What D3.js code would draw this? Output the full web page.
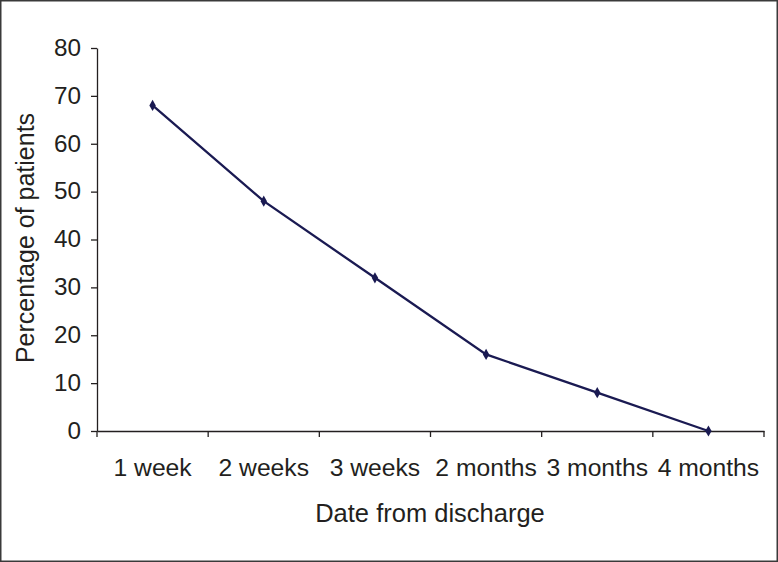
<!DOCTYPE html>
<html><head><meta charset="utf-8">
<script src="https://cdn.jsdelivr.net/npm/d3@7"></script>
<style>html,body{margin:0;padding:0;background:#fff;}svg{display:block;}</style>
</head><body>
<script>
const categories = ["1 week","2 weeks","3 weeks","2 months","3 months","4 months"];
const values = [68,48,32,16,8,0];
const yTicks = [0,10,20,30,40,50,60,70,80];

(function(){
const W=778,H=562;
const svg=d3.select("body").append("svg").attr("width",W).attr("height",H);
svg.append("rect").attr("x",0.75).attr("y",0.75).attr("width",W-1.5).attr("height",H-1.5)
  .attr("fill","#fff").attr("stroke","#3a3a3a").attr("stroke-width",1.5);

const mL=97,mR=764,mT=48,mB=431;
const x=d3.scaleBand().domain(categories).range([mL,mR]);
const y=d3.scaleLinear().domain([0,80]).range([mB,mT]);
const font="Liberation Sans, Arial, sans-serif";
const tc="#231f20";

const ya=svg.append("g").attr("transform",`translate(${mL},0)`)
  .call(d3.axisLeft(y).tickValues(yTicks).tickSize(6).tickPadding(10).tickSizeOuter(0));
ya.select(".domain").attr("stroke","#231f20").attr("stroke-width",1.3);
ya.selectAll(".tick line").attr("stroke","#231f20").attr("stroke-width",1.3);
ya.selectAll("text").attr("font-family",font).attr("font-size",24.3).attr("fill",tc).attr("dy","0.3em");

const xa=svg.append("g").attr("transform",`translate(0,${mB})`)
  .call(d3.axisBottom(x).tickSize(0).tickPadding(30).tickSizeOuter(0));
xa.select(".domain").attr("stroke","#231f20").attr("stroke-width",1.3);
xa.selectAll("text").attr("font-family",font).attr("font-size",24.7).attr("fill",tc)
  .attr("y",45).attr("dy",0);
const bounds=categories.map(c=>x(c)).concat([mR]);
xa.selectAll(".bt").data(bounds).enter().append("line")
  .attr("x1",d=>d).attr("x2",d=>d).attr("y1",0).attr("y2",6)
  .attr("stroke","#231f20").attr("stroke-width",1.3);

const line=d3.line().x((d,i)=>x(categories[i])+x.bandwidth()/2).y(d=>y(d));
svg.append("path").datum(values).attr("d",line).attr("fill","none")
  .attr("stroke","#1a1a52").attr("stroke-width",2.3);
svg.selectAll(".mk").data(values).enter().append("path")
  .attr("d",d3.symbol().type(d3.symbolDiamond).size(36))
  .attr("transform",(d,i)=>`translate(${x(categories[i])+x.bandwidth()/2},${y(d)})`)
  .attr("fill","#1a1a52");

svg.append("text").attr("x",430).attr("y",522).attr("text-anchor","middle")
  .attr("font-family",font).attr("font-size",25.5).attr("fill",tc).text("Date from discharge");
svg.append("text").attr("transform","translate(34,238) rotate(-90)").attr("text-anchor","middle")
  .attr("font-family",font).attr("font-size",25).attr("fill",tc).text("Percentage of patients");
})();
</script>
</body></html>
